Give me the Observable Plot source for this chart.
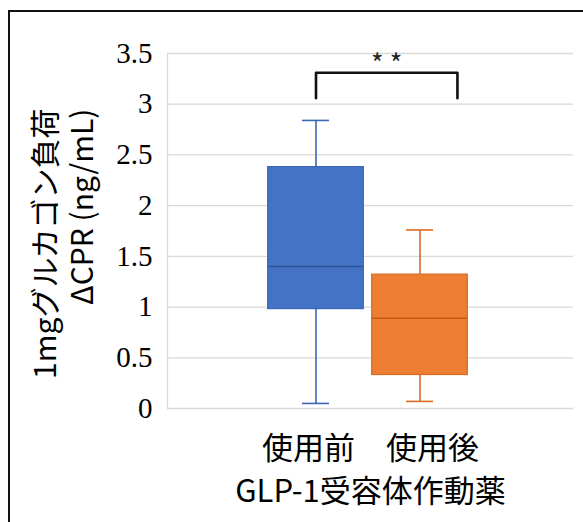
<!DOCTYPE html>
<html>
<head>
<meta charset="utf-8">
<script src="https://cdn.jsdelivr.net/npm/d3@7"></script>
<script src="https://cdn.jsdelivr.net/npm/@observablehq/plot@0.6"></script>
<style>
  html, body { margin: 0; padding: 0; background: #fff; overflow: hidden; }
  #wrap { position: relative; width: 583px; height: 522px; }
  #border { position: absolute; left: 8px; top: 10px; width: 700px; height: 700px;
            border-left: 2px solid #111; border-top: 2px solid #111; pointer-events: none; }
</style>
</head>
<body>
<div id="wrap"><div id="chart"></div><div id="border"></div></div>
<script>
// ---- data ----
const groups = ["使用前", "使用後"];
const whiskerMin = [0.05, 0.07];
const q1 = [0.98, 0.33];
const median = [1.40, 0.89];
const q3 = [2.38, 1.32];
const whiskerMax = [2.84, 1.76];
const fillColors = ["#4472C4", "#ED7D31"];
const lineColors = ["#3C67B4", "#D96C22"];
const medianColors = ["#2F5597", "#C05A12"];
const yTicks = [0, 0.5, 1, 1.5, 2, 2.5, 3, 3.5];
const xLabel = "使用前　使用後\nGLP-1受容体作動薬";
const yLabel = "1mgグルカゴン負荷\nΔCPR (ng/mL)";
const sigLabel = "* *";
// significance bracket (in category-index units and y values)
const bracketX = [1, 2.36];
const bracketY = [3.06, 3.31];

// ---- table built from the arrays ----
const boxes = groups.map((g, i) => ({
  group: g, pos: i + 1,
  min: whiskerMin[i], q1: q1[i], med: median[i], q3: q3[i], max: whiskerMax[i],
  fill: fillColors[i], line: lineColors[i], medc: medianColors[i]
}));
const bracket = [
  {x: bracketX[0], y: bracketY[0]},
  {x: bracketX[0], y: bracketY[1]},
  {x: bracketX[1], y: bracketY[1]},
  {x: bracketX[1], y: bracketY[0]}
];
const xDomain = [-0.428, 3.476];
const halfBox = 0.46, halfCap = 0.13;
const cjk = "Noto Sans CJK JP";
const serif = "Liberation Serif";

const chart = Plot.plot({
  width: 583, height: 522,
  marginLeft: 167, marginRight: 10, marginTop: 53, marginBottom: 114,
  x: {domain: xDomain, axis: null},
  y: {domain: [0, 3.5], axis: null},
  style: {fontFamily: serif, fontSize: "29px", color: "#000", background: "transparent"},
  marks: [
    Plot.ruleY(yTicks, {stroke: "#d9d9d9", strokeWidth: 1.3}),
    Plot.ruleX([xDomain[0]], {stroke: "#d9d9d9", strokeWidth: 1.3}),
    Plot.axisY({ticks: yTicks, tickSize: 0, tickPadding: 15, label: null,
      tickFormat: d => String(d), fontFamily: serif, fontSize: 29, ariaLabel: "yticks"}),
    // whiskers
    Plot.ruleX(boxes, {x: "pos", y1: "q3", y2: "max", stroke: d => d.line, strokeWidth: 1.6}),
    Plot.ruleX(boxes, {x: "pos", y1: "min", y2: "q1", stroke: d => d.line, strokeWidth: 1.6}),
    Plot.ruleY(boxes, {y: "max", x1: d => d.pos - halfCap, x2: d => d.pos + halfCap, stroke: d => d.line, strokeWidth: 1.6}),
    Plot.ruleY(boxes, {y: "min", x1: d => d.pos - halfCap, x2: d => d.pos + halfCap, stroke: d => d.line, strokeWidth: 1.6}),
    // boxes
    Plot.rect(boxes, {x1: d => d.pos - halfBox, x2: d => d.pos + halfBox, y1: "q1", y2: "q3",
      fill: d => d.fill, stroke: d => d.line, strokeWidth: 1.2}),
    Plot.ruleY(boxes, {y: "med", x1: d => d.pos - halfBox, x2: d => d.pos + halfBox, stroke: d => d.medc, strokeWidth: 1.4}),
    // significance bracket
    Plot.line(bracket, {x: "x", y: "y", stroke: "#111", strokeWidth: 2.6, strokeLinejoin: "round", curve: "linear"}),
    Plot.text([sigLabel], {text: d => d, x: (bracketX[0] + bracketX[1]) / 2, y: 3.5, lineAnchor: "middle", dy: 12,
      fontFamily: cjk, fontSize: 27, fill: "#222"}),
    // axis titles
    Plot.text([xLabel], {text: d => d, frameAnchor: "bottom", lineAnchor: "top", dy: 20,
      fontFamily: cjk, fontSize: 31, lineHeight: 1.38, letterSpacing: 1, fill: "#000"}),
    Plot.text([yLabel], {text: d => d, frameAnchor: "top-left", rotate: -90, textAnchor: "end",
      lineAnchor: "middle", dx: -105, dy: 55, fontFamily: cjk, fontSize: 30, lineHeight: 1.24, fill: "#000"})
  ]
});
document.getElementById("chart").appendChild(chart);
// make sure tick labels use the serif face
const tickTexts = new Set(yTicks.map(String));
chart.querySelectorAll("text").forEach(t => {
  if (tickTexts.has(t.textContent.trim())) {
    t.style.setProperty("font-family", serif, "important");
    t.setAttribute("font-family", serif);
  }
});
</script>
</body>
</html>
